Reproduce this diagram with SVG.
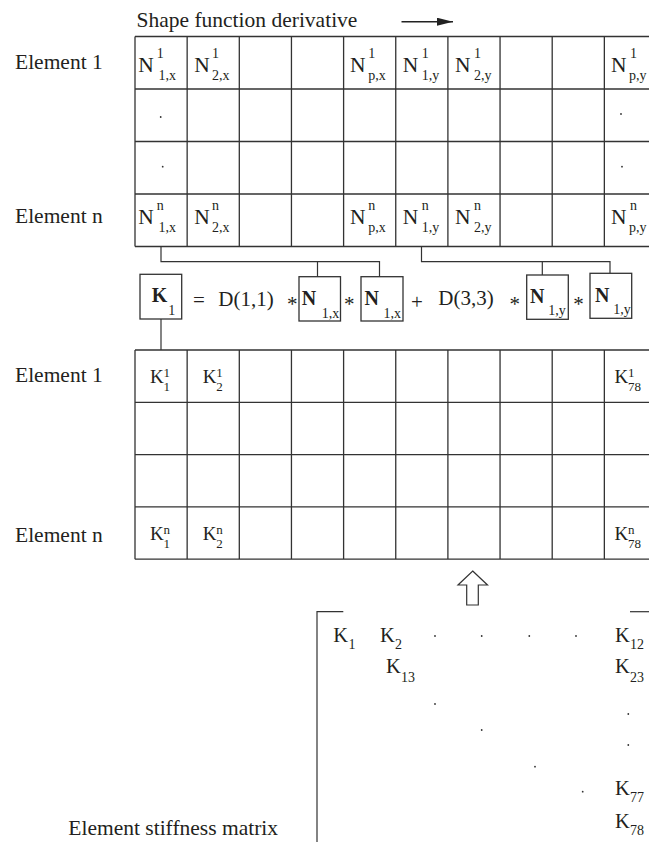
<svg xmlns="http://www.w3.org/2000/svg" width="649" height="842" viewBox="0 0 649 842" font-family="'Liberation Serif','Times New Roman',serif">
<defs>
<marker id="ah" viewBox="0 0 16 8" refX="16" refY="4" markerWidth="16" markerHeight="8" markerUnits="userSpaceOnUse" orient="auto"><path d="M0,0 L16,4 L0,8 z" fill="#222"/></marker>
</defs>
<style>
text{font-family:"Liberation Serif","Times New Roman",serif;fill:#231f20}
.lbl{font-size:21.5px}
.N{font-size:21.5px}
.s{font-size:14px}
.K{font-size:19px}
.ks{font-size:13px}
.eq{font-size:21px}
.b{font-weight:bold;font-size:20px}
.mk{font-size:20.5px}
.ms{font-size:14px}
.grid{fill:none;stroke:#333;stroke-width:1.3}
.box{fill:none;stroke:#333;stroke-width:1.3}
.con{fill:none;stroke:#333;stroke-width:1.2}
.dot{fill:#333}
</style>
<rect width="649" height="842" fill="#fff"/>

<g id="title">
<text class="lbl" x="136.5" y="26.7">Shape function derivative</text>
<line x1="401.5" y1="21.7" x2="453" y2="21.7" stroke="#222" stroke-width="1.4" marker-end="url(#ah)"/>
</g>

<g id="row-labels">
<text class="lbl" x="15" y="69">Element 1</text>
<text class="lbl" x="15" y="222.5">Element n</text>
<text class="lbl" x="15" y="381.7">Element 1</text>
<text class="lbl" x="15" y="541.5">Element n</text>
<text class="lbl" x="68.3" y="835">Element stiffness matrix</text>
</g>

<g id="shape-derivative-table">
<path class="grid" d="M135,36.5H656.5M135,89H656.5M135,141.5H656.5M135,194H656.5M135,246.5H656.5M135,36.5V246.5M187.15,36.5V246.5M239.3,36.5V246.5M291.45,36.5V246.5M343.6,36.5V246.5M395.75,36.5V246.5M447.9,36.5V246.5M500.05,36.5V246.5M552.2,36.5V246.5M604.35,36.5V246.5M656.5,36.5V246.5"/>
<g id="n1-1x"><text class="N" x="138.3" y="72">N</text><text class="s" x="156.7" y="57.5">1</text><text class="s" x="158.5" y="80">1,x</text></g>
<g id="n1-2x"><text class="N" x="194.3" y="72">N</text><text class="s" x="212" y="57.5">1</text><text class="s" x="212" y="80">2,x</text></g>
<g id="n1-px"><text class="N" x="350" y="72">N</text><text class="s" x="368.3" y="57.5">1</text><text class="s" x="368.3" y="80">p,x</text></g>
<g id="n1-1y"><text class="N" x="402.7" y="72">N</text><text class="s" x="421.7" y="57.5">1</text><text class="s" x="421.7" y="80">1,y</text></g>
<g id="n1-2y"><text class="N" x="455" y="72">N</text><text class="s" x="474" y="57.5">1</text><text class="s" x="474" y="80">2,y</text></g>
<g id="n1-py"><text class="N" x="611" y="72">N</text><text class="s" x="630" y="57.5">1</text><text class="s" x="629" y="80">p,y</text></g>
<circle class="dot" cx="160.7" cy="117" r="0.9"/>
<circle class="dot" cx="162.7" cy="166.7" r="0.9"/>
<circle class="dot" cx="621" cy="114" r="0.9"/>
<circle class="dot" cx="622" cy="166.7" r="0.9"/>
<g id="nn-1x"><text class="N" x="138.3" y="224">N</text><text class="s" x="156.7" y="209.5">n</text><text class="s" x="158.5" y="232">1,x</text></g>
<g id="nn-2x"><text class="N" x="194.3" y="224">N</text><text class="s" x="212" y="209.5">n</text><text class="s" x="212" y="232">2,x</text></g>
<g id="nn-px"><text class="N" x="350" y="224">N</text><text class="s" x="368.3" y="209.5">n</text><text class="s" x="368.3" y="232">p,x</text></g>
<g id="nn-1y"><text class="N" x="402.7" y="224">N</text><text class="s" x="421.7" y="209.5">n</text><text class="s" x="421.7" y="232">1,y</text></g>
<g id="nn-2y"><text class="N" x="455" y="224">N</text><text class="s" x="474" y="209.5">n</text><text class="s" x="474" y="232">2,y</text></g>
<g id="nn-py"><text class="N" x="611" y="224">N</text><text class="s" x="630" y="209.5">n</text><text class="s" x="629" y="232">p,y</text></g>
</g>

<g id="connectors">
<path class="con" d="M161,246.5V261.7H379.5V276.7M317.5,261.7V276.7"/>
<path class="con" d="M421.5,246.5V261.7H610V273.3M542.3,261.7V275"/>
<path class="con" d="M161,319V350"/>
</g>

<g id="equation">
<g id="k1-box"><rect class="box" x="140" y="274.3" width="41.7" height="44.7"/><text class="b" x="151.7" y="301.7">K</text><text class="s" x="168.3" y="315">1</text></g>
<text class="eq" x="193" y="307">=</text>
<text class="eq" x="218.3" y="305.7">D(1,1)</text>
<text class="eq" x="287" y="311">*</text>
<g id="n1x-box-a"><rect class="box" x="299" y="276.7" width="41.5" height="44.3"/><text class="b" x="301.7" y="305">N</text><text class="s" x="321.7" y="318">1,x</text></g>
<text class="eq" x="344" y="311">*</text>
<g id="n1x-box-b"><rect class="box" x="361" y="276.7" width="42" height="44.3"/><text class="b" x="364.5" y="305">N</text><text class="s" x="383.5" y="318">1,x</text></g>
<text class="eq" x="411" y="308.5">+</text>
<text class="eq" x="438.3" y="304.5">D(3,3)</text>
<text class="eq" x="509.5" y="311">*</text>
<g id="n1y-box-a"><rect class="box" x="526.7" y="275" width="41.6" height="44.3"/><text class="b" x="530" y="303.3">N</text><text class="s" x="548.3" y="315">1,y</text></g>
<text class="eq" x="573.3" y="311">*</text>
<g id="n1y-box-b"><rect class="box" x="590" y="273.3" width="41.7" height="45"/><text class="b" x="595" y="302.3">N</text><text class="s" x="613.3" y="314">1,y</text></g>
</g>

<g id="stiffness-table">
<path class="grid" d="M135,350H656.5M135,402.3H656.5M135,454.6H656.5M135,506.9H656.5M135,559.2H656.5M135,350V559.2M187.15,350V559.2M239.3,350V559.2M291.45,350V559.2M343.6,350V559.2M395.75,350V559.2M447.9,350V559.2M500.05,350V559.2M552.2,350V559.2M604.35,350V559.2M656.5,350V559.2"/>
<g id="k1-1"><text class="K" x="150" y="383">K</text><text class="ks" x="163.5" y="377">1</text><text class="ks" x="163.5" y="391">1</text></g>
<g id="k1-2"><text class="K" x="202.8" y="383">K</text><text class="ks" x="216.3" y="377">1</text><text class="ks" x="216.3" y="391">2</text></g>
<g id="k1-78"><text class="K" x="614.6" y="383">K</text><text class="ks" x="628" y="377">1</text><text class="ks" x="628" y="391">78</text></g>
<g id="kn-1"><text class="K" x="150" y="540">K</text><text class="ks" x="163.5" y="534">n</text><text class="ks" x="163.5" y="548">1</text></g>
<g id="kn-2"><text class="K" x="202.8" y="540">K</text><text class="ks" x="216.3" y="534">n</text><text class="ks" x="216.3" y="548">2</text></g>
<g id="kn-78"><text class="K" x="614.6" y="540">K</text><text class="ks" x="628" y="534">n</text><text class="ks" x="628" y="548">78</text></g>
</g>

<g id="assembly-arrow">
<polygon points="472.7,571 487.5,585 478.3,585 478.3,605 466.7,605 466.7,585 458,585" fill="#fff" stroke="#333" stroke-width="1.2"/>
</g>

<g id="element-stiffness-matrix">
<path class="con" d="M343.3,611.7H317V842"/>
<path class="con" d="M630,611.7H649"/>
<text class="mk" x="333.3" y="641.7">K</text><text class="ms" x="348.5" y="649">1</text>
<text class="mk" x="380" y="641.7">K</text><text class="ms" x="395" y="649">2</text>
<text class="mk" x="615" y="641.7">K</text><text class="ms" x="630" y="649">12</text>
<text class="mk" x="386" y="673.3">K</text><text class="ms" x="401" y="682">13</text>
<text class="mk" x="615" y="673.3">K</text><text class="ms" x="630" y="682">23</text>
<text class="mk" x="615" y="795">K</text><text class="ms" x="630" y="802">77</text>
<text class="mk" x="615" y="828">K</text><text class="ms" x="630" y="835">78</text>
<circle class="dot" cx="435" cy="636" r="0.9"/>
<circle class="dot" cx="481.7" cy="636" r="0.9"/>
<circle class="dot" cx="529.3" cy="636" r="0.9"/>
<circle class="dot" cx="576" cy="636" r="0.9"/>
<circle class="dot" cx="435" cy="704" r="0.9"/>
<circle class="dot" cx="628.3" cy="714" r="0.9"/>
<circle class="dot" cx="481.7" cy="730" r="0.9"/>
<circle class="dot" cx="628.3" cy="745" r="0.9"/>
<circle class="dot" cx="535" cy="766.7" r="0.9"/>
<circle class="dot" cx="582.7" cy="791.7" r="0.9"/>
</g>
</svg>
